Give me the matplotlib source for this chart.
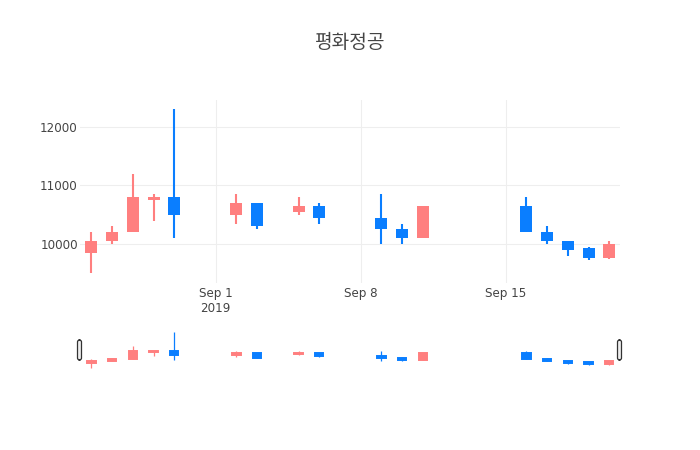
import numpy as np
import pandas as pd
import matplotlib
matplotlib.use("Agg")
import matplotlib.pyplot as plt
import matplotlib.dates as mdates
from matplotlib.patches import FancyBboxPatch

plt.rcParams['font.family'] = ['DejaVu Sans', 'Noto Sans CJK KR']

# 일별 시세
dates = ['2019-08-26', '2019-08-27', '2019-08-28', '2019-08-29', '2019-08-30',
         '2019-09-02', '2019-09-03', '2019-09-05', '2019-09-06',
         '2019-09-09', '2019-09-10', '2019-09-11',
         '2019-09-16', '2019-09-17', '2019-09-18', '2019-09-19', '2019-09-20']
opens = [9850, 10050, 10200, 10750, 10800,
         10500, 10700, 10550, 10650,
         10450, 10250, 10100,
         10650, 10200, 10050, 9930, 9770]
highs = [10200, 10300, 11200, 10850, 12300,
         10850, 10700, 10800, 10700,
         10850, 10350, 10650,
         10800, 10300, 10050, 9950, 10050]
lows = [9500, 10000, 10200, 10400, 10100,
        10350, 10250, 10500, 10350,
        10000, 10000, 10100,
        10200, 10000, 9800, 9720, 9740]
closes = [10050, 10200, 10800, 10800, 10500,
          10700, 10300, 10650, 10450,
          10250, 10100, 10650,
          10200, 10050, 9900, 9770, 10000]

title = '평화정공'
up_color = '#ff7f7f'
down_color = '#0a7eff'

x = mdates.date2num(pd.to_datetime(dates))
o = np.array(opens)
h = np.array(highs)
l = np.array(lows)
c = np.array(closes)
colors = [up_color if cc >= oo else down_color for oo, cc in zip(o, c)]

W, H = 700, 450
fig = plt.figure(figsize=(7, 4.5), dpi=100)

xlim = (mdates.date2num(pd.Timestamp('2019-08-25')) + 0.45,
        mdates.date2num(pd.Timestamp('2019-09-20')) + 0.52)
ylim = (9335, 12460)

# 메인 차트
ax = fig.add_axes([80 / W, 1 - 283 / H, 540 / W, 183 / H])
ax.vlines(x, l, h, colors=colors, lw=1.5, zorder=2)
ax.bar(x, np.maximum(np.abs(c - o), 15), width=0.58, bottom=np.minimum(o, c),
       color=colors, zorder=3)
ax.set_xlim(xlim)
ax.set_ylim(ylim)
ax.set_yticks([10000, 11000, 12000])
ax.set_yticklabels(['10000', '11000', '12000'])
ticks = mdates.date2num(pd.to_datetime(['2019-09-01', '2019-09-08', '2019-09-15']))
ax.set_xticks(ticks)
ax.set_xticklabels(['Sep 1\n2019', 'Sep 8', 'Sep 15'], linespacing=1.15)
ax.grid(True, color='#eeeeee', lw=0.8)
ax.set_axisbelow(True)
for s in ax.spines.values():
    s.set_visible(False)
ax.tick_params(length=0, colors='#444', labelsize=8.6)
ax.tick_params(axis='y', pad=1.5)
ax.tick_params(axis='x', pad=3)

fig.text(0.5, 1 - 43 / H, title, ha='center', va='center', fontsize=13.8, color='#444')

# 레인지 슬라이더
sl = fig.add_axes([80 / W, 1 - 370 / H, 540 / W, 40 / H])
sl.vlines(x, l, h, colors=colors, lw=0.9)
sl.bar(x, np.abs(c - o), width=0.4, bottom=np.minimum(o, c), color=colors,
       edgecolor=colors, lw=1.4)
sl.set_xlim(xlim)
sl.set_ylim(ylim)
sl.axis('off')

for px in (77.5, 617.5):
    fig.patches.append(FancyBboxPatch((px / W, 1 - 360 / H), 4 / W, 20 / H,
                                      boxstyle='round,pad=0,rounding_size=0.004',
                                      transform=fig.transFigure, fc='#eee', ec='#333', lw=0.9))

fig.savefig('out.png', dpi=100)
